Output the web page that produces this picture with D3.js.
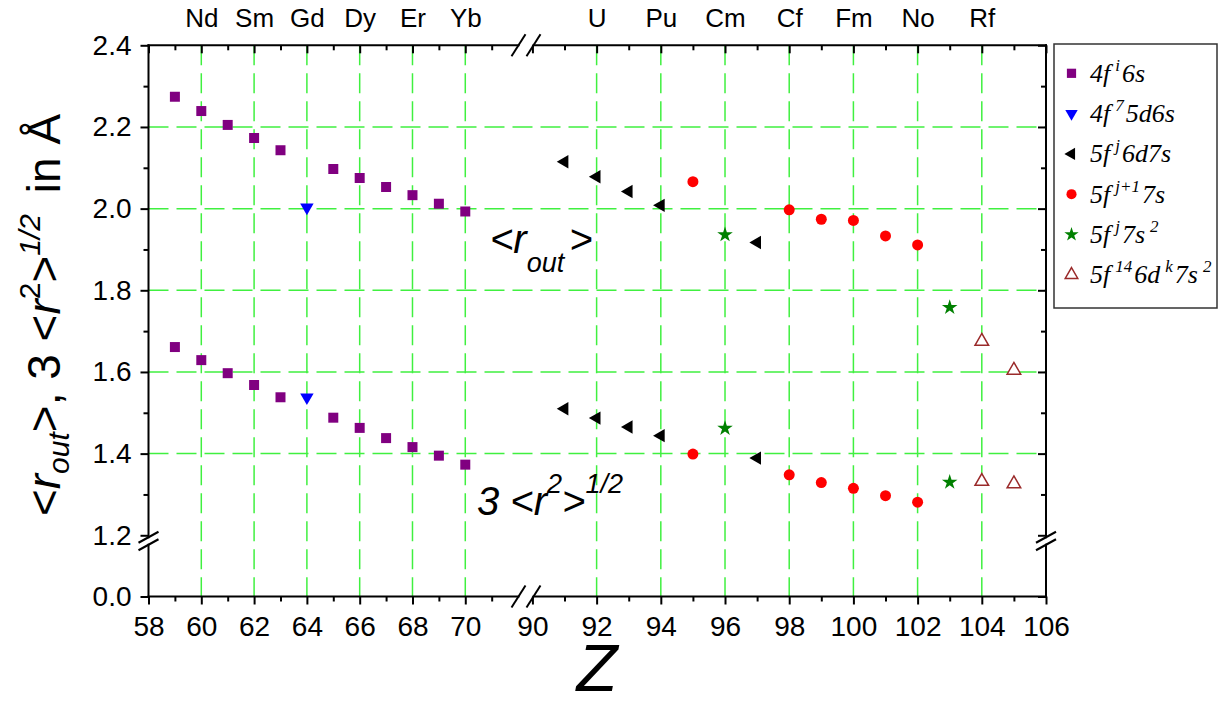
<!DOCTYPE html>
<html>
<head>
<meta charset="utf-8">
<script src="https://cdn.jsdelivr.net/npm/d3@7"></script>
<style>
  html, body { margin: 0; padding: 0; background: #fff; }
  svg { display: block; }
</style>
</head>
<body>
<svg id="chart" width="1220" height="709"></svg>
<script>
// ---- data: outer radius <r_out> and 3<r^2>^(1/2) (in Å) vs. atomic number Z ----
const lanZ      = [59, 60, 61, 62, 63, 65, 66, 67, 68, 69, 70];
const lanOuter  = [2.274, 2.239, 2.205, 2.173, 2.143, 2.097, 2.075, 2.053, 2.033, 2.012, 1.993];
const lanRms    = [1.661, 1.629, 1.597, 1.568, 1.538, 1.488, 1.463, 1.438, 1.416, 1.395, 1.373];

const gdZ       = [64];
const gdOuter   = [2.003];
const gdRms     = [1.538];

const fd7sZ     = [91, 92, 93, 94, 97];
const fd7sOuter = [2.115, 2.078, 2.042, 2.008, 1.917];
const fd7sRms   = [1.510, 1.487, 1.465, 1.444, 1.389];

const f7sZ      = [95, 98, 99, 100, 101, 102];
const f7sOuter  = [2.066, 1.997, 1.974, 1.971, 1.933, 1.911];
const f7sRms    = [1.399, 1.348, 1.329, 1.315, 1.297, 1.281];

const f7s2Z     = [96, 103];
const f7s2Outer = [1.936, 1.758];
const f7s2Rms   = [1.462, 1.330];

const d7s2Z     = [104, 105];
const d7s2Outer = [1.675, 1.604];
const d7s2Rms   = [1.332, 1.326];

// element symbols shown along the top axis
const lanLabelZ = [60, 62, 64, 66, 68, 70];
const lanNames  = ["Nd", "Sm", "Gd", "Dy", "Er", "Yb"];
const actLabelZ = [92, 94, 96, 98, 100, 102, 104];
const actNames  = ["U", "Pu", "Cm", "Cf", "Fm", "No", "Rf"];

// axis ticks
const xMajor1 = [58, 60, 62, 64, 66, 68, 70];
const xMinor1 = [59, 61, 63, 65, 67, 69, 71];
const xMajor2 = [90, 92, 94, 96, 98, 100, 102, 104, 106];
const xMinor2 = [91, 93, 95, 97, 99, 101, 103, 105];
const yMajor1 = [1.2, 1.4, 1.6, 1.8, 2.0, 2.2, 2.4];
const yMinor1 = [1.3, 1.5, 1.7, 1.9, 2.1, 2.3];
const yMajor2 = [0.0];
const xGrid   = [60, 62, 64, 66, 68, 70, 92, 94, 96, 98, 100, 102, 104];
const yGrid   = [1.4, 1.6, 1.8, 2.0, 2.2];

// legend text: [text, isSuperscript]
const legendLabels = [
  [["4f", 0], ["i", 1], ["6s", 0]],
  [["4f", 0], ["7", 1], ["5d6s", 0]],
  [["5f", 0], ["j", 1], ["6d7s", 0]],
  [["5f", 0], ["j+1", 1], ["7s", 0]],
  [["5f", 0], ["j", 1], ["7s", 0], ["2", 1]],
  [["5f", 0], ["14", 1], ["6d", 0], ["k", 1], ["7s", 0], ["2", 1]]
];

// ---- layout ----
const plot = { left: 148.5, right: 1046, top: 45.3, bottom: 596.5 };
const xBreak = 526, yBreak = 541;
const SANS = "'Liberation Sans', Arial, sans-serif";
const SERIF = "'Liberation Serif', 'Times New Roman', serif";

// broken axes: two linear pieces each
const x1 = d3.scaleLinear().domain([58, 72.3]).range([plot.left, xBreak]);
const x2 = d3.scaleLinear().domain([89.8, 106]).range([xBreak, plot.right]);
const y1 = d3.scaleLinear().domain([1.186, 2.4]).range([yBreak, plot.top]);
const y2 = d3.scaleLinear().domain([0, 0.136]).range([plot.bottom, yBreak]);
const X = z => (z < 80 ? x1(z) : x2(z));
const Y = v => (v < 0.6 ? y2(v) : y1(v));

const series = [
  { z: lanZ,  a: lanOuter,  b: lanRms,  sym: d3.symbolSquare,   size: 100, rot: 0,   fill: "#800080", stroke: "none" },
  { z: gdZ,   a: gdOuter,   b: gdRms,   sym: d3.symbolTriangle, size: 78,  rot: 180, fill: "#0000ff", stroke: "none" },
  { z: fd7sZ, a: fd7sOuter, b: fd7sRms, sym: d3.symbolTriangle, size: 78,  rot: -90, fill: "#000000", stroke: "none" },
  { z: f7sZ,  a: f7sOuter,  b: f7sRms,  sym: d3.symbolCircle,   size: 95,  rot: 0,   fill: "#ff0000", stroke: "none" },
  { z: f7s2Z, a: f7s2Outer, b: f7s2Rms, sym: d3.symbolStar,     size: 75,  rot: 0,   fill: "#008000", stroke: "none" },
  { z: d7s2Z, a: d7s2Outer, b: d7s2Rms, sym: d3.symbolTriangle, size: 80,  rot: 0,   fill: "#ffffff", stroke: "#9a2a2a" }
];

const svg = d3.select("#chart");
svg.append("rect").attr("width", 1220).attr("height", 709).attr("fill", "#fff");

// ---- grid ----
const grid = svg.append("g")
  .attr("stroke", "#40f040").attr("stroke-width", 1.5).attr("stroke-dasharray", "20,8").attr("fill", "none");
grid.selectAll("line.gx").data(xGrid).join("line").attr("class", "gx")
  .attr("x1", d => X(d)).attr("x2", d => X(d)).attr("y1", plot.top).attr("y2", plot.bottom);
grid.selectAll("line.gy").data(yGrid).join("line").attr("class", "gy")
  .attr("x1", plot.left).attr("x2", plot.right).attr("y1", d => Y(d)).attr("y2", d => Y(d));

// ---- axes ----
function styleAxis(g, fontSize) {
  g.select(".domain").remove();
  g.attr("font-family", SANS).attr("font-size", fontSize || 28);
  g.selectAll("line").attr("stroke", "#000").attr("stroke-width", 2);
  g.selectAll("text").attr("fill", "#000");
}
function addAxis(parent, axis, fontSize) {
  const g = parent.append("g").call(axis);
  styleAxis(g, fontSize);
  return g;
}
const fmtInt = d3.format("d"), fmtY = d3.format(".1f");

const axBottom = svg.append("g").attr("transform", `translate(0,${plot.bottom})`);
addAxis(axBottom, d3.axisBottom(x1).tickValues(xMajor1).tickSize(8).tickPadding(12).tickFormat(fmtInt));
addAxis(axBottom, d3.axisBottom(x1).tickValues(xMinor1).tickSize(5).tickFormat(""));
addAxis(axBottom, d3.axisBottom(x2).tickValues(xMajor2).tickSize(8).tickPadding(12).tickFormat(fmtInt));
addAxis(axBottom, d3.axisBottom(x2).tickValues(xMinor2).tickSize(5).tickFormat(""));

const axTop = svg.append("g").attr("transform", `translate(0,${plot.top})`);
addAxis(axTop, d3.axisTop(x1).tickValues(xMajor1).tickSize(-8).tickFormat(""));
addAxis(axTop, d3.axisTop(x1).tickValues(xMinor1).tickSize(-5).tickFormat(""));
addAxis(axTop, d3.axisTop(x2).tickValues(xMajor2).tickSize(-8).tickFormat(""));
addAxis(axTop, d3.axisTop(x2).tickValues(xMinor2).tickSize(-5).tickFormat(""));
addAxis(axTop, d3.axisTop(x1).tickValues(lanLabelZ).tickSize(0).tickPadding(18).tickFormat((d, i) => lanNames[i]), 26);
addAxis(axTop, d3.axisTop(x2).tickValues(actLabelZ).tickSize(0).tickPadding(18).tickFormat((d, i) => actNames[i]), 26);

const axLeft = svg.append("g").attr("transform", `translate(${plot.left},0)`);
addAxis(axLeft, d3.axisLeft(y1).tickValues(yMajor1).tickSize(8).tickPadding(9).tickFormat(fmtY));
addAxis(axLeft, d3.axisLeft(y1).tickValues(yMinor1).tickSize(5).tickFormat(""));
addAxis(axLeft, d3.axisLeft(y2).tickValues(yMajor2).tickSize(8).tickPadding(9).tickFormat(fmtY));

const axRight = svg.append("g").attr("transform", `translate(${plot.right},0)`);
addAxis(axRight, d3.axisRight(y1).tickValues(yMajor1).tickSize(-8).tickFormat(""));
addAxis(axRight, d3.axisRight(y1).tickValues(yMinor1).tickSize(-5).tickFormat(""));
addAxis(axRight, d3.axisRight(y2).tickValues(yMajor2).tickSize(-8).tickFormat(""));

// frame with gaps at the axis breaks
const frame = svg.append("g").attr("stroke", "#000").attr("stroke-width", 2).attr("stroke-linecap", "square");
const gx = 7.5, gy = 3.75;
[plot.top, plot.bottom].forEach(yy => {
  frame.append("line").attr("x1", plot.left).attr("x2", xBreak - gx).attr("y1", yy).attr("y2", yy);
  frame.append("line").attr("x1", xBreak + gx).attr("x2", plot.right).attr("y1", yy).attr("y2", yy);
  [-gx, gx].forEach(o => frame.append("line").attr("stroke-linecap", "butt")
    .attr("x1", xBreak + o - 7).attr("y1", yy + 11).attr("x2", xBreak + o + 7).attr("y2", yy - 11));
});
[plot.left, plot.right].forEach(xx => {
  frame.append("line").attr("x1", xx).attr("x2", xx).attr("y1", plot.top).attr("y2", yBreak - gy);
  frame.append("line").attr("x1", xx).attr("x2", xx).attr("y1", yBreak + gy).attr("y2", plot.bottom);
  [-gy, gy].forEach(o => frame.append("line").attr("stroke-linecap", "butt")
    .attr("x1", xx - 10).attr("y1", yBreak + o + 5.5).attr("x2", xx + 10).attr("y2", yBreak + o - 5.5));
});

// ---- markers ----
const marks = svg.append("g");
series.forEach(s => {
  const path = d3.symbol().type(s.sym).size(s.size)();
  const pts = s.z.map((z, i) => [z, s.a[i]]).concat(s.z.map((z, i) => [z, s.b[i]]));
  marks.append("g").selectAll("path").data(pts).join("path")
    .attr("d", path)
    .attr("transform", d => `translate(${X(d[0])},${Y(d[1])}) rotate(${s.rot})`)
    .attr("fill", s.fill)
    .attr("stroke", s.stroke)
    .attr("stroke-width", s.stroke === "none" ? 0 : 1.5);
});

// ---- in-plot annotations ----
const ann1 = svg.append("text").attr("x", 490).attr("y", 253)
  .attr("font-family", SANS).attr("font-style", "italic").attr("font-size", 40).attr("fill", "#000");
ann1.append("tspan").text("<r");
ann1.append("tspan").attr("font-size", 27).attr("dy", 19).text("out");
ann1.append("tspan").attr("dy", -19).attr("dx", 5).text(">");

const ann2 = svg.append("text").attr("x", 477).attr("y", 515)
  .attr("font-family", SANS).attr("font-style", "italic").attr("font-size", 40).attr("fill", "#000");
ann2.append("tspan").text("3 <r");
ann2.append("tspan").attr("font-size", 27).attr("dy", -22).text("2");
ann2.append("tspan").attr("dy", 22).text(">");
ann2.append("tspan").attr("font-size", 27).attr("dy", -22).text("1/2");

// ---- axis titles ----
svg.append("text").attr("x", 597).attr("y", 691).attr("text-anchor", "middle")
  .attr("font-family", SANS).attr("font-style", "italic").attr("font-size", 67).attr("fill", "#000").text("Z");

const yt = svg.append("text").attr("transform", "translate(60,315) rotate(-90)").attr("text-anchor", "middle")
  .attr("font-family", SANS).attr("font-size", 46).attr("fill", "#000");
yt.append("tspan").text("<");
yt.append("tspan").attr("font-style", "italic").text("r");
yt.append("tspan").attr("font-size", 30).attr("dy", 9).attr("font-style", "italic").text("out");
yt.append("tspan").attr("dy", -9).text(">, 3 <");
yt.append("tspan").attr("font-style", "italic").text("r");
yt.append("tspan").attr("font-size", 30).attr("dy", -20).text("2");
yt.append("tspan").attr("dy", 20).text(">");
yt.append("tspan").attr("font-size", 30).attr("dy", -20).attr("font-style", "italic").text("1/2");
yt.append("tspan").attr("dy", 20).attr("dx", 8).text(" in Å");

// ---- legend ----
const lg = svg.append("g");
lg.append("rect").attr("x", 1054).attr("y", 44).attr("width", 163).attr("height", 264)
  .attr("fill", "#fff").attr("stroke", "#333").attr("stroke-width", 1.5);
series.forEach((s, i) => {
  const cy = 73.3 + i * 40.3;
  lg.append("path").attr("d", d3.symbol().type(s.sym).size(s.size * 0.85)())
    .attr("transform", `translate(1071.5,${cy}) rotate(${s.rot})`)
    .attr("fill", s.fill).attr("stroke", s.stroke).attr("stroke-width", s.stroke === "none" ? 0 : 1.5);
  const t = lg.append("text").attr("x", 1090).attr("y", cy + 8.5)
    .attr("font-family", SERIF).attr("font-style", "italic").attr("font-size", 26).attr("fill", "#000");
  let raised = false;
  legendLabels[i].forEach(([txt, sup]) => {
    const ts = t.append("tspan").text(txt);
    if (sup && !raised) { ts.attr("dy", -11).attr("font-size", 17).attr("dx", 5); raised = true; }
    else if (sup) { ts.attr("font-size", 17).attr("dx", 2); }
    else if (raised) { ts.attr("dy", 11).attr("dx", 2); raised = false; }
  });
});
</script>
</body>
</html>
